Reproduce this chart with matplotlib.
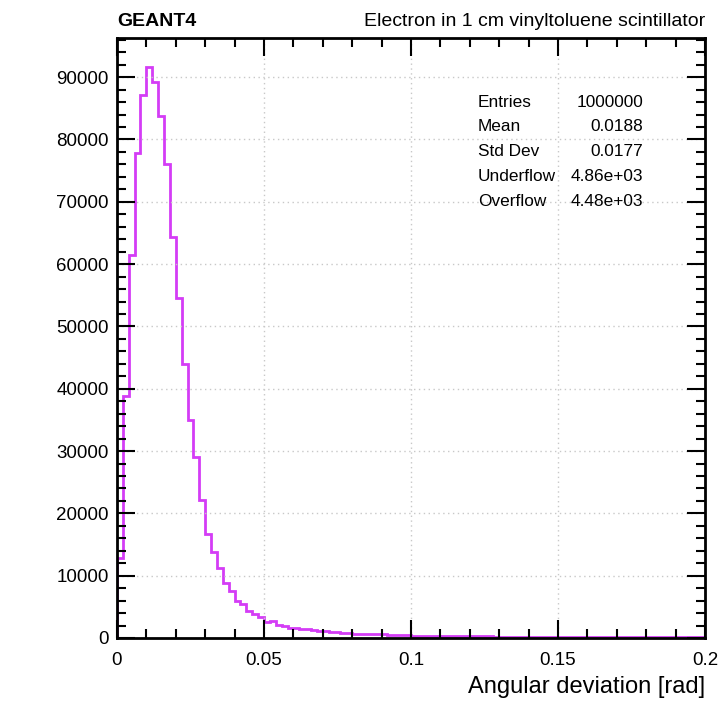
import numpy as np
import matplotlib
matplotlib.use("Agg")
import matplotlib.pyplot as plt
from matplotlib.ticker import MultipleLocator, AutoMinorLocator

# histogram: 100 bins from 0 to 0.2 rad, counts
x_min, x_max, n_bins = 0.0, 0.2, 100
counts = [
    12900, 38800, 61400, 77800, 87200, 91600, 89300, 83800, 76100, 64400,
    54500, 44000, 35000, 29000, 22100, 16700, 13800, 11200, 8900, 7500,
    6000, 5400, 4300, 3800, 3300, 2500, 2700, 2070, 1860, 1650,
    1600, 1490, 1440, 1220, 1200, 1170, 960, 900, 850, 750,
    690, 680, 640, 620, 580, 600, 530, 480, 420, 400,
    380, 360, 370, 340, 330, 310, 300, 290, 280, 270,
    265, 255, 250, 240, 235, 230, 220, 215, 210, 205,
    200, 195, 190, 190, 185, 180, 175, 172, 168, 165,
    160, 158, 155, 152, 150, 148, 145, 142, 140, 138,
    136, 134, 132, 130, 128, 126, 125, 123, 122, 120,
]
stat_names = ["Entries", "Mean", "Std Dev", "Underflow", "Overflow"]
stat_values = ["1000000", "0.0188", "0.0177", "4.86e+03", "4.48e+03"]

plt.rcParams["font.family"] = ["Liberation Sans", "DejaVu Sans"]

fig = plt.figure(figsize=(7.22, 7.01), dpi=100)
ax = fig.add_axes([0.162, 0.0899, 0.8145, 0.856])

edges = np.linspace(x_min, x_max, n_bins + 1)
ax.stairs(counts, edges, color="#d43cf6", linewidth=2, baseline=0)

ax.set_xlim(x_min, x_max)
ax.set_ylim(0, 96300)
ax.xaxis.set_major_locator(MultipleLocator(0.05))
ax.xaxis.set_minor_locator(AutoMinorLocator(5))
ax.yaxis.set_major_locator(MultipleLocator(10000))
ax.yaxis.set_minor_locator(AutoMinorLocator(5))
ax.set_xticks([0, 0.05, 0.1, 0.15, 0.2])
ax.set_xticklabels(["0", "0.05", "0.1", "0.15", "0.2"])

ax.grid(True, which="major", color="#c8c8c8", linestyle=(0, (1, 2.5)), linewidth=1)
ax.tick_params(which="both", direction="in", top=True, right=True, width=1.5,
               labelsize=13.5, colors="black")
ax.tick_params(which="major", length=13, pad=6)
ax.tick_params(which="minor", length=6.5)
ax.tick_params(axis="x", which="major", pad=10)
for s in ax.spines.values():
    s.set_linewidth(2)

ax.set_xlabel("Angular deviation [rad]", fontsize=17, loc="right", labelpad=5)

fig.text(0.162, 0.970, "GEANT4", fontsize=14, fontweight="bold", va="center", ha="left")
fig.text(0.9765, 0.970, "Electron in 1 cm vinyltoluene scintillator",
         fontsize=14, va="center", ha="right")

for i, (name, val) in enumerate(zip(stat_names, stat_values)):
    y = 0.893 - i * 0.0412
    ax.text(0.614, y, name, transform=ax.transAxes, fontsize=12.4, va="center", ha="left")
    ax.text(0.8946, y, val, transform=ax.transAxes, fontsize=12.4, va="center", ha="right")

fig.savefig("out.png", dpi=100)
